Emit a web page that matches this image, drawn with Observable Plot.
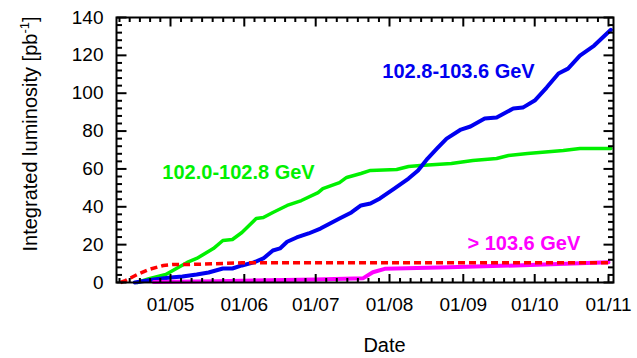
<!DOCTYPE html>
<html><head><meta charset="utf-8">
<script src="https://cdn.jsdelivr.net/npm/d3@7"></script>
<script src="https://cdn.jsdelivr.net/npm/@observablehq/plot@0.6"></script>
<style>body{margin:0;background:#fff;overflow:hidden} svg{display:block}</style>
</head><body><div id="chart"></div>
<script>
// ---- data (year 2000) ----
const blueDates = ["04-16","04-24","05-01","05-06","05-12","05-17","05-23","05-27","05-31","06-05","06-09","06-13","06-16","06-19","06-23","06-28","07-03","07-07","07-11","07-16","07-20","07-24","07-28","08-03","08-09","08-13","08-17","08-21","08-25","08-31","09-04","09-10","09-15","09-22","09-26","10-01","10-06","10-11","10-15","10-20","10-26","11-02"];
const blueValues = [0,1.6,2.6,3.2,4.2,5.3,7.4,7.4,9,10.6,12.7,16.9,18,21.5,23.8,25.9,28.5,31.2,33.8,37,40.7,41.7,44.4,49.6,54.9,59.2,65.5,70.8,76,80.8,82.4,86.6,87.2,91.9,92.4,96.1,103,110.4,113,119.9,125.2,133.5];

const greenDates = ["04-17","04-22","04-29","05-08","05-12","05-19","05-23","05-27","05-31","06-06","06-09","06-13","06-19","06-25","07-02","07-04","07-11","07-14","07-20","07-24","08-04","08-09","08-14","08-27","09-05","09-15","09-20","09-28","10-13","10-20","11-02"];
const greenValues = [0,2,4.2,10.6,12.7,17.9,22.2,22.7,26.4,33.8,34.3,37,40.7,43.3,47.5,49.6,52.8,55.5,57.6,59.2,59.7,61.3,61.8,62.9,64.4,65.5,67.1,68.1,69.7,70.8,70.8];

const magentaDates = ["04-24","05-20","07-01","07-21","07-25","07-30","08-26","09-23","11-01"];
const magentaValues = [0.2,0.7,1.6,2.3,5.4,7.2,8.1,9,10.7];

const redDates = ["04-10","04-12","04-17","04-22","04-28","05-02","05-09","05-31","11-01"];
const redValues = [0,1,4.2,6.9,9,9.5,9.5,10.4,10.5];

const monthTicks = ["05-01","06-01","07-01","08-01","09-01","10-01","11-01"];
const yTicks = [0,20,40,60,80,100,120,140];
const seriesLabels = ["102.8-103.6 GeV","102.0-102.8 GeV","> 103.6 GeV"];
const xTitle = "Date";
const yTitle = "Integrated luminosity [pb-1]";

// ---- helpers ----
const parse = s => new Date("2000-" + s + "T00:00:00Z");
const pts = (ds, vs) => ds.map((d, i) => ({date: parse(d), value: vs[i]}));

const W = 637, H = 358, mL = 116, mR = 24, mT = 17, mB = 76;
const innerH = H - mT - mB, innerW = W - mL - mR;

const xMajor = monthTicks.map(parse);
const monthStarts = ["04-01","05-01","06-01","07-01","08-01","09-01","10-01","11-01","12-01"].map(parse);
const xDomain = [new Date(Date.UTC(2000,3,8,7,34)), new Date(Date.UTC(2000,10,3,2,25))];
const yDomain = [0, 140];
const xMinor = [];
for (let i = 0; i < monthStarts.length - 1; i++) {
  const a = +monthStarts[i], b = +monthStarts[i+1];
  for (let k = 1; k < 7; k++) {
    const t = new Date(a + (b - a) * k / 7);
    if (t >= xDomain[0] && t <= xDomain[1]) xMinor.push(t);
  }
}
const yMinor = d3.range(0, 141, 4).filter(v => v % 20 !== 0);

const BLUE = "#0000f0", GREEN = "#00f000", MAGENTA = "#ff00ff", RED = "#ff0000";

// straight tick shape for vector marks
const tickShape = {draw(ctx, l) { ctx.moveTo(0, 0); ctx.lineTo(0, -l); }};
const tv = {shape: tickShape, anchor: "start", stroke: "black", strokeWidth: 2, strokeLinecap: "butt"};

// fallback tick segments (paths through the line mark)
const pxY = (yDomain[1] - yDomain[0]) / innerH, pxX = (xDomain[1] - xDomain[0]) / innerW;
const x0 = +xDomain[0], x1 = +xDomain[1];
const segs = []; let sid = 0;
const addX = (vals, len) => vals.forEach(v => {
  segs.push({id: sid, x: v, y: yDomain[0]}, {id: sid++, x: v, y: yDomain[0] + len * pxY});
  segs.push({id: sid, x: v, y: yDomain[1]}, {id: sid++, x: v, y: yDomain[1] - len * pxY});
});
const addY = (vals, len) => vals.forEach(v => {
  segs.push({id: sid, x: new Date(x0), y: v}, {id: sid++, x: new Date(x0 + len * pxX), y: v});
  segs.push({id: sid, x: new Date(x1), y: v}, {id: sid++, x: new Date(x1 - len * pxX), y: v});
});
addX(xMajor, 8.5); addX(xMinor, 4.5); addY(yTicks, 10); addY(yMinor, 5.5);

function tickMarks(useVectors) {
  if (!useVectors) return [Plot.line(segs, {x: "x", y: "y", z: "id", stroke: "black", strokeWidth: 2, strokeLinecap: "butt"})];
  return [
    Plot.vector(xMajor, {x: d => d, frameAnchor: "bottom", rotate: 0, length: 8.5, ...tv}),
    Plot.vector(xMajor, {x: d => d, frameAnchor: "top", rotate: 180, length: 9, ...tv}),
    Plot.vector(xMinor, {x: d => d, frameAnchor: "bottom", rotate: 0, length: 4.5, ...tv}),
    Plot.vector(xMinor, {x: d => d, frameAnchor: "top", rotate: 180, length: 4.5, ...tv}),
    Plot.vector(yTicks, {y: d => d, frameAnchor: "left", rotate: 90, length: 10, ...tv}),
    Plot.vector(yTicks, {y: d => d, frameAnchor: "right", rotate: -90, length: 10, ...tv}),
    Plot.vector(yMinor, {y: d => d, frameAnchor: "left", rotate: 90, length: 5.5, ...tv}),
    Plot.vector(yMinor, {y: d => d, frameAnchor: "right", rotate: -90, length: 5.5, ...tv})
  ];
}

function build(useVectors) {
  return Plot.plot({
    width: W, height: H,
    marginLeft: mL, marginRight: mR, marginTop: mT, marginBottom: mB,
    x: {type: "utc", domain: xDomain},
    y: {domain: yDomain},
    style: {fontFamily: "'Liberation Sans', Arial, sans-serif", background: "white", color: "black"},
    marks: [
      Plot.axisX(xMajor, {tickSize: 0, tickPadding: 15, tickFormat: d3.utcFormat("%d/%m"), fontSize: 19, label: null}),
      Plot.axisY(yTicks, {tickSize: 0, tickPadding: 13, fontSize: 19, label: null}),
      Plot.line(pts(greenDates, greenValues), {x: "date", y: "value", stroke: GREEN, strokeWidth: 3.5}),
      Plot.line(pts(blueDates, blueValues), {x: "date", y: "value", stroke: BLUE, strokeWidth: 4}),
      Plot.line(pts(magentaDates, magentaValues), {x: "date", y: "value", stroke: MAGENTA, strokeWidth: 4}),
      Plot.line(pts(redDates, redValues), {x: "date", y: "value", stroke: RED, strokeWidth: 3.5, strokeDasharray: "7,4", strokeLinecap: "butt"}),
      ...tickMarks(useVectors),
      Plot.frame({stroke: "black", strokeWidth: 2}),
      Plot.text([seriesLabels[0]], {x: parse("07-29"), y: 111.5, text: d => d, textAnchor: "start", fill: BLUE, fontWeight: "bold", fontSize: 20}),
      Plot.text([seriesLabels[1]], {x: new Date(Date.UTC(2000,3,27,14)), y: 58.1, text: d => d, textAnchor: "start", fill: GREEN, fontWeight: "bold", fontSize: 20}),
      Plot.text([seriesLabels[2]], {x: new Date(Date.UTC(2000,8,2,18)), y: 20.6, text: d => d, textAnchor: "start", fill: MAGENTA, fontWeight: "bold", fontSize: 20}),
      Plot.text([xTitle], {frameAnchor: "bottom", dx: 19.5, dy: 63.5, text: d => d, textAnchor: "middle", lineAnchor: "middle", fontSize: 20, fill: "black"}),
      Plot.text([yTitle], {frameAnchor: "left", dx: -86, dy: -16, rotate: -90, text: d => d, textAnchor: "middle", lineAnchor: "middle", fontSize: 20, fill: "black"})
    ]
  });
}

let chart;
try { chart = build(true); } catch (e) { chart = build(false); }
document.getElementById("chart").appendChild(chart);

// superscript for the y title
d3.select(chart).selectAll("text").filter(function() { return this.textContent === yTitle; })
  .each(function() {
    const t = d3.select(this);
    t.text(null);
    t.append("tspan").text("Integrated luminosity [pb");
    t.append("tspan").attr("dy", -8).attr("font-size", 13).text("-1");
    t.append("tspan").attr("dy", 8).text("]");
  });
</script>
</body></html>
